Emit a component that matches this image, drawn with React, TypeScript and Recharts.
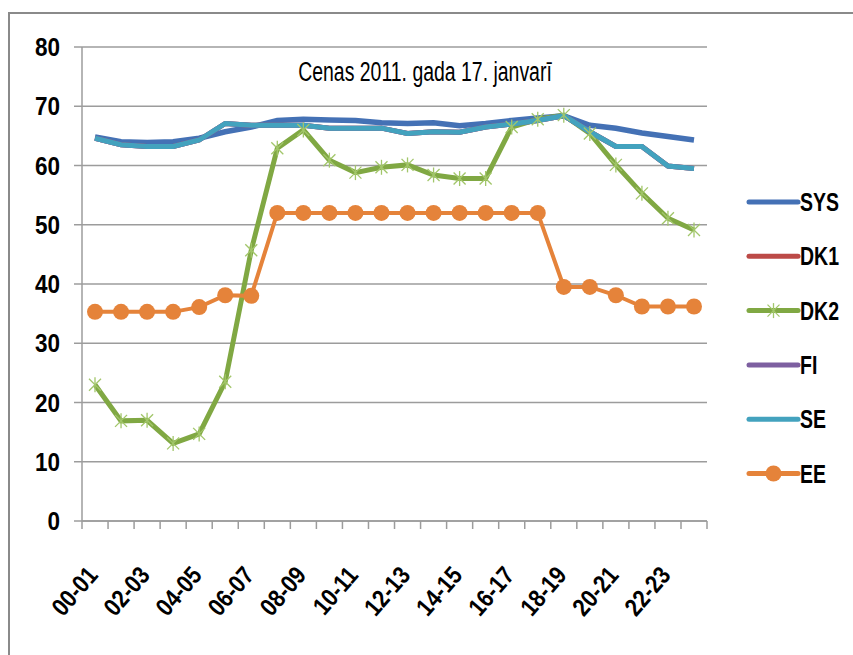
import React from 'react';
import { LineChart, Line, XAxis, YAxis, CartesianGrid, Legend } from 'recharts';

const hours = ['00-01','01-02','02-03','03-04','04-05','05-06','06-07','07-08','08-09','09-10','10-11','11-12','12-13','13-14','14-15','15-16','16-17','17-18','18-19','19-20','20-21','21-22','22-23','23-24'];

const sys = [64.8,64.0,63.9,64.0,64.6,65.7,66.5,67.6,67.8,67.7,67.6,67.2,67.1,67.2,66.7,67.1,67.6,68.0,68.4,66.8,66.3,65.5,64.9,64.3];
const dk1 = [64.6,63.5,63.2,63.2,64.3,67.1,66.8,66.8,66.8,66.3,66.3,66.3,65.4,65.7,65.6,66.5,67.0,67.6,68.4,65.7,63.2,63.2,59.9,59.5];
const dk2 = [23.0,16.9,17.0,13.1,14.7,23.5,45.7,62.9,66.0,60.9,58.8,59.7,60.1,58.4,57.8,57.8,66.5,67.8,68.5,65.4,60.1,55.3,51.1,49.1];
const fi = [64.6,63.5,63.2,63.2,64.3,67.1,66.8,66.8,66.8,66.3,66.3,66.3,65.4,65.7,65.6,66.5,67.0,67.6,68.4,65.7,63.2,63.2,59.9,59.5];
const se = [64.6,63.5,63.2,63.2,64.3,67.1,66.8,66.8,66.8,66.3,66.3,66.3,65.4,65.7,65.6,66.5,67.0,67.6,68.4,65.7,63.2,63.2,59.9,59.5];
const ee = [35.3,35.3,35.3,35.3,36.1,38.1,38.0,52,52,52,52,52,52,52,52,52,52,52,39.5,39.5,38.1,36.2,36.2,36.2];

const yTicks = [0, 10, 20, 30, 40, 50, 60, 70, 80];

const seriesNames = ['SYS', 'DK1', 'DK2', 'FI', 'SE', 'EE'];
const seriesColors = ['#4471B5', '#BC4A47', '#80A843', '#7D5FA0', '#43A2BE', '#E5833A'];
const title = 'Cenas 2011. gada 17. janvarī';

const data = hours.map((h, i) => ({
  hour: h,
  SYS: sys[i],
  DK1: dk1[i],
  DK2: dk2[i],
  FI: fi[i],
  SE: se[i],
  EE: ee[i],
}));

const FONT = '"Liberation Sans", Arial, sans-serif';
const GRID = '#9c9c9c';
const STAR = '#A2C66A';
const HALF_STEP = 13;

const StarDot = (props: any) => {
  const { cx, cy, index } = props;
  if (cx == null || cy == null) return <g key={`s${index}`} />;
  const r = 7.5;
  const d = 6;
  return (
    <g key={`s${index}`} stroke={STAR} strokeWidth={1.3}>
      <line x1={cx} y1={cy - r} x2={cx} y2={cy + r} />
      <line x1={cx - d} y1={cy - d} x2={cx + d} y2={cy + d} />
      <line x1={cx - d} y1={cy + d} x2={cx + d} y2={cy - d} />
    </g>
  );
};

const BoundaryTick = (props: any) => {
  const { x, y, payload } = props;
  const last = payload.value === hours[hours.length - 1];
  return (
    <g stroke={GRID} strokeWidth={1.5}>
      <line x1={x - HALF_STEP} y1={y} x2={x - HALF_STEP} y2={y + 8} />
      {last && <line x1={x + HALF_STEP} y1={y} x2={x + HALF_STEP} y2={y + 8} />}
    </g>
  );
};

const XLabelTick = (props: any) => {
  const { x, y, payload } = props;
  return (
    <g transform={`translate(${x + 4},${y + 46}) rotate(-49) scale(0.86,1)`}>
      <text x={0} y={0} textAnchor="end" fontFamily={FONT} fontWeight="bold" fontSize={25} fill="#000">
        {payload.value}
      </text>
    </g>
  );
};

const YTick = (props: any) => {
  const { x, y, payload } = props;
  return (
    <g transform={`translate(${x},${y}) scale(0.9,1)`}>
      <text x={0} y={0} dy="0.36em" textAnchor="end" fontFamily={FONT} fontWeight="bold" fontSize={25} fill="#000">
        {payload.value}
      </text>
    </g>
  );
};

const renderLegend = () => (
  <svg width={146} height={330} style={{ display: 'block' }}>
    {seriesNames.map((name, i) => {
      const y = 32 + i * 54.3;
      const c = seriesColors[i];
      return (
        <g key={name}>
          <line x1={42} y1={y} x2={91} y2={y} stroke={c} strokeWidth={5} strokeLinecap="round" />
          {name === 'EE' && <circle cx={66.5} cy={y} r={8} fill={c} />}
          {name === 'DK2' && (
            <g stroke={STAR} strokeWidth={1.3}>
              <line x1={66.5} y1={y - 7.5} x2={66.5} y2={y + 7.5} />
              <line x1={60.5} y1={y - 6} x2={72.5} y2={y + 6} />
              <line x1={60.5} y1={y + 6} x2={72.5} y2={y - 6} />
            </g>
          )}
          <g transform={`translate(93,${y}) scale(0.78,1)`}>
            <text x={0} y={0} dy="0.36em" fontFamily={FONT} fontWeight="bold" fontSize={25} fill="#000">
              {name}
            </text>
          </g>
        </g>
      );
    })}
  </svg>
);

export default function App() {
  return (
    <div style={{ position: 'fixed', left: 0, top: 0, width: 853, height: 655, overflow: 'hidden', background: '#fff' }}>
      <div style={{ position: 'absolute', left: 8, top: 12, width: 1000, height: 1000, border: '2px solid #8a8a8a' }} />
      <div
        style={{
          position: 'absolute',
          left: 225,
          top: 59,
          width: 400,
          textAlign: 'center',
          fontFamily: FONT,
          fontSize: 27,
          lineHeight: '27px',
          color: '#000',
          whiteSpace: 'nowrap',
          transform: 'scaleX(0.72)',
          transformOrigin: '200px 0',
        }}
      >
        {title}
      </div>
      <div style={{ position: 'absolute', left: 0, top: 0 }}>
        <LineChart width={853} height={655} data={data} margin={{ top: 47, right: 0, left: 32, bottom: 0 }}>
          <CartesianGrid xAxisId="cat" horizontal={true} vertical={false} stroke={GRID} strokeWidth={1.5} />
          <XAxis
            xAxisId="bound"
            dataKey="hour"
            type="category"
            padding={{ left: 13, right: 13 }}
            interval={0}
            height={9}
            tick={BoundaryTick}
            tickSize={0}
            tickMargin={0}
            tickLine={false}
            axisLine={{ stroke: GRID, strokeWidth: 1.5 }}
          />
          <XAxis
            xAxisId="cat"
            dataKey="hour"
            type="category"
            padding={{ left: 13, right: 13 }}
            interval={1}
            height={125}
            tickLine={false}
            axisLine={false}
            tickSize={0}
            tickMargin={0}
            tick={XLabelTick}
          />
          <YAxis
            domain={[0, 80]}
            ticks={yTicks}
            interval={0}
            width={50}
            tickSize={8}
            tickMargin={14}
            tickLine={{ stroke: GRID, strokeWidth: 1.5 }}
            axisLine={{ stroke: GRID, strokeWidth: 1.5 }}
            tick={YTick}
          />
          <Legend
            layout="vertical"
            align="right"
            verticalAlign="top"
            wrapperStyle={{ top: 170, left: 707, width: 146, height: 330 }}
            content={renderLegend}
          />
          <Line xAxisId="cat" type="linear" dataKey="SYS" name="SYS" stroke={seriesColors[0]} strokeWidth={5.5} dot={false} isAnimationActive={false} />
          <Line xAxisId="cat" type="linear" dataKey="DK1" name="DK1" stroke={seriesColors[1]} strokeWidth={5} dot={false} isAnimationActive={false} />
          <Line xAxisId="cat" type="linear" dataKey="DK2" name="DK2" stroke={seriesColors[2]} strokeWidth={5} dot={StarDot} isAnimationActive={false} />
          <Line xAxisId="cat" type="linear" dataKey="FI" name="FI" stroke={seriesColors[3]} strokeWidth={5} dot={false} isAnimationActive={false} />
          <Line xAxisId="cat" type="linear" dataKey="SE" name="SE" stroke={seriesColors[4]} strokeWidth={5} dot={false} isAnimationActive={false} />
          <Line
            xAxisId="cat"
            type="linear"
            dataKey="EE"
            name="EE"
            stroke={seriesColors[5]}
            strokeWidth={4}
            dot={{ r: 8, fill: seriesColors[5], stroke: seriesColors[5], strokeWidth: 0 }}
            isAnimationActive={false}
          />
        </LineChart>
      </div>
    </div>
  );
}
